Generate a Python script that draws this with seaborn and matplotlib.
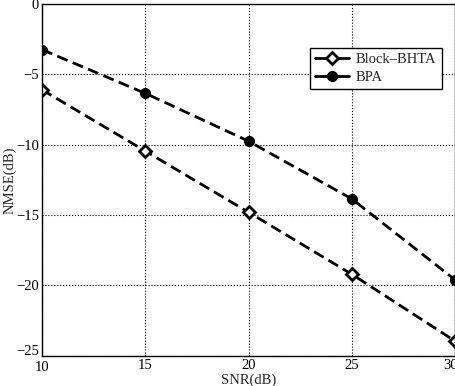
import numpy as np
import matplotlib
matplotlib.use("Agg")
import matplotlib.pyplot as plt
import matplotlib.transforms as mtrans
import pandas as pd
import seaborn as sns

snr = [10, 15, 20, 25, 30]
nmse_bhta = [-6.1, -10.45, -14.8, -19.2, -23.95]
nmse_bpa = [-3.25, -6.35, -9.75, -13.85, -19.6]

df = pd.concat([
    pd.DataFrame({"SNR": snr, "NMSE": nmse_bhta, "method": "Block\u2013BHTA"}),
    pd.DataFrame({"SNR": snr, "NMSE": nmse_bpa, "method": "BPA"}),
])

sns.set_style("white")
plt.rcParams['font.family'] = ['Liberation Serif', 'DejaVu Serif']
plt.rcParams['font.size'] = 10.5

fig = plt.figure(figsize=(4.56, 3.86), dpi=100)
ax = fig.add_axes([0.092, 0.078, 0.906, 0.912])
sns.lineplot(data=df, x="SNR", y="NMSE", hue="method", style="method",
             palette=["black", "black"], markers=["D", "o"], dashes=[(4, 2), (4, 2)],
             linewidth=2, markersize=6, ax=ax)
for ln, mfc in zip(ax.get_lines()[:2], ["white", "black"]):
    ln.set_markerfacecolor(mfc)
    ln.set_markeredgecolor("black")
    ln.set_markeredgewidth(2)

ax.set_xlim(10, 30)
ax.set_ylim(-25, 0)
ax.set_xticks([10, 15, 20, 25, 30])
ax.set_yticks([-25, -20, -15, -10, -5, 0])
ax.set_yticklabels(["\u221225", "\u221220", "\u221215", "\u221210", "\u22125", "0"])
ax.grid(True, linestyle=":", color="black", linewidth=0.8)
for s in ax.spines.values():
    s.set_color("black")
    s.set_linewidth(1)
ax.tick_params(direction="in", length=4, colors="black", labelsize=10.5, pad=2)
ax.set_xlabel("SNR(dB)", labelpad=-1)
ax.set_ylabel("NMSE(dB)", labelpad=0)

# nudge the corner labels apart like the original
lab = ax.get_yticklabels()[0]
lab.set_transform(lab.get_transform() + mtrans.ScaledTranslation(0, 4 / 72, fig.dpi_scale_trans))
lab = ax.get_xticklabels()[0]
lab.set_transform(lab.get_transform() + mtrans.ScaledTranslation(0, -2 / 72, fig.dpi_scale_trans))
lab = ax.get_xticklabels()[-1]
lab.set_transform(lab.get_transform() + mtrans.ScaledTranslation(-3 / 72, 0, fig.dpi_scale_trans))

leg = ax.legend(loc="upper right", bbox_to_anchor=(0.985, 0.895), frameon=True,
                fancybox=False, edgecolor="black", framealpha=1, fontsize=10.5,
                handlelength=2.3, borderpad=0.35, labelspacing=0.3, handletextpad=0.5)
leg.get_frame().set_linewidth(1)
for h, mfc in zip(leg.get_lines(), ["white", "black"]):
    h.set_markerfacecolor(mfc)
    h.set_markeredgecolor("black")
    h.set_markeredgewidth(2)
    h.set_linestyle("-")

fig.savefig("out.png", dpi=100)
